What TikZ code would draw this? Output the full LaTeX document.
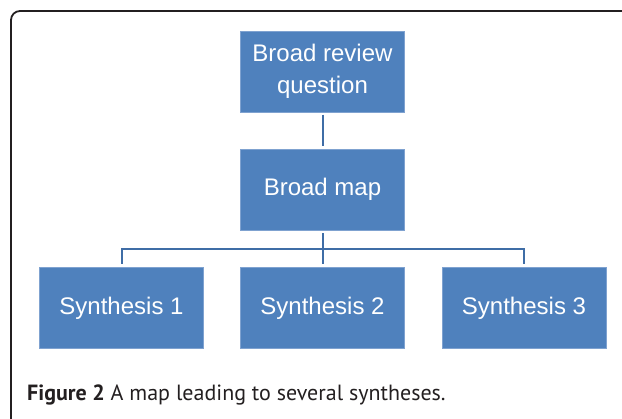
\documentclass[tikz,border=0pt]{standalone}
\usepackage{fontspec}
\setmainfont{Liberation Sans}
\newfontfamily\capfont{PT Sans}
\definecolor{boxblue}{HTML}{4F81BD}
\definecolor{boxedge}{HTML}{7FA2D0}
\definecolor{connblue}{HTML}{3F6DA6}
\definecolor{framegray}{HTML}{231F20}
\tikzset{
  blockbox/.style={fill=boxblue, draw=boxedge, line width=0.4pt, text=white,
    minimum width=164pt, minimum height=81pt, inner sep=0pt, align=center,
    font=\fontsize{24}{32}\selectfont},
  conn/.style={draw=connblue, line width=2pt},
}
\begin{document}
\begin{tikzpicture}[x=1pt,y=-1pt]
\useasboundingbox (0,0) rectangle (622,419);
% frame
\draw[framegray, line width=1.8pt, rounded corners=9pt] (11,430) -- (11,11) -- (640,11);
% nodes
\node[blockbox] (q) at (322.5,71.5) {Broad review\\question};
\node[blockbox] (map) at (322.5,189.5) {Broad map};
\node[blockbox] (s1) at (121.5,308) {Synthesis 1};
\node[blockbox] (s2) at (322.5,308) {Synthesis 2};
\node[blockbox] (s3) at (524,308) {Synthesis 3};
% connectors
\draw[conn, shorten <=2.5pt, shorten >=2.5pt] (q.south) -- (map.north);
\draw[conn, shorten <=3pt, shorten >=3pt] (map.south) -- (s2.north);
\draw[conn, shorten >=3pt] (map.south) ++(0,19) -| (s1.north);
\draw[conn, shorten >=3pt] (map.south) ++(0,19) -| (s3.north);
% caption
\node[anchor=base west, inner sep=0pt, font=\capfont\fontsize{22}{26}\selectfont, text=framegray] (cap) at (27,401) {\textbf{Figure 2} A map leading to several syntheses.};
\end{tikzpicture}
\end{document}
